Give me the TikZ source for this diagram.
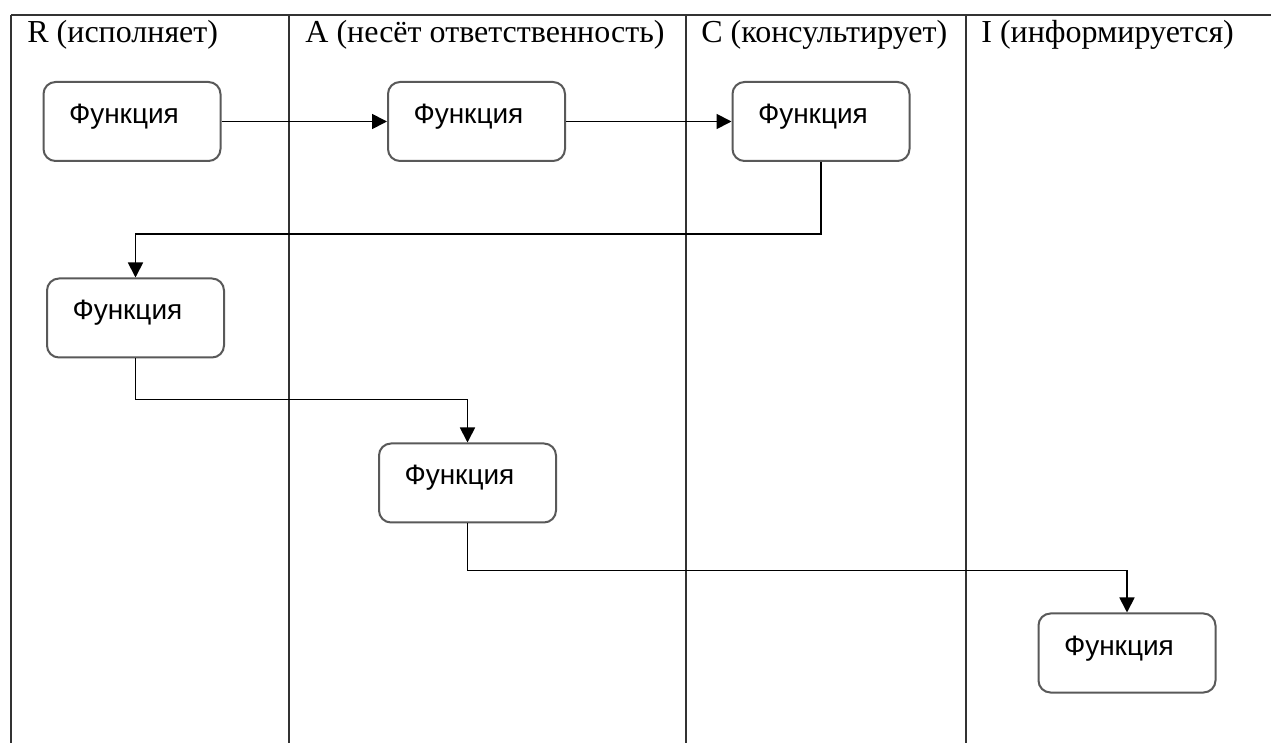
\documentclass[tikz,border=0pt]{standalone}
\usepackage{fontspec}
\setmainfont{Liberation Serif}
\newfontfamily\funcfont{Liberation Sans}
\usetikzlibrary{
  arrows.meta
}

\begin{document}
\begin{tikzpicture}[
  x=0.5pt, y=-0.5pt,
  lane/.style={
    draw=black!80,
    line width=1pt
  },
  head/.style={
    anchor=base west,
    inner sep=0pt,
    font=\fontsize{16}{19}\selectfont
  },
  func/.style={
    rectangle,
    rounded corners=6pt,
    draw=black!65,
    line width=1pt,
    fill=white,
    minimum width=88.5pt,
    minimum height=39.5pt,
    text width=63pt,
    inner xsep=12.5pt,
    text height=8pt,
    text depth=6pt,
    align=left,
    font=\funcfont\fontsize{14}{16}\selectfont
  },
  arrow/.style={
    -{Triangle[length=7.5pt, width=7.5pt]},
    line width=0.9pt,
    draw=black
  }
]
\useasboundingbox (0,0) rectangle (1271,743);

% Swimlanes
\draw[lane] (11,15) -- (1271,15);
\foreach \x in {11,289,686,966}
  \draw[lane] (\x,15) -- (\x,743);

% Lane headers
\node[head] (hr) at (27,43) {R (исполняет)};
\node[head] (ha) at (305,43) {A (несёт ответственность)};
\node[head] (hc) at (701,43) {C (консультирует)};
\node[head] (hi) at (981,43) {I (информируется)};

% Functions
\node[func] (r1) at (132,121.5) {Функция};
\node[func] (a1) at (476.5,121.5) {Функция};
\node[func] (c1) at (821,121.5) {Функция};
\node[func] (r2) at (135.5,318) {Функция};
\node[func] (a2) at (467.5,483) {Функция};
\node[func] (i1) at (1127,653) {Функция};

% Flow
\draw[arrow] (r1) -- (a1);
\draw[arrow] (a1) -- (c1);
\draw[arrow] (c1.south) -- ++(0,72) -| (r2.north);
\draw[arrow] (r2.south) -- ++(0,41) -| (a2.north);
\draw[arrow] (a2.south) -- ++(0,47) -| (i1.north);

\end{tikzpicture}
\end{document}
